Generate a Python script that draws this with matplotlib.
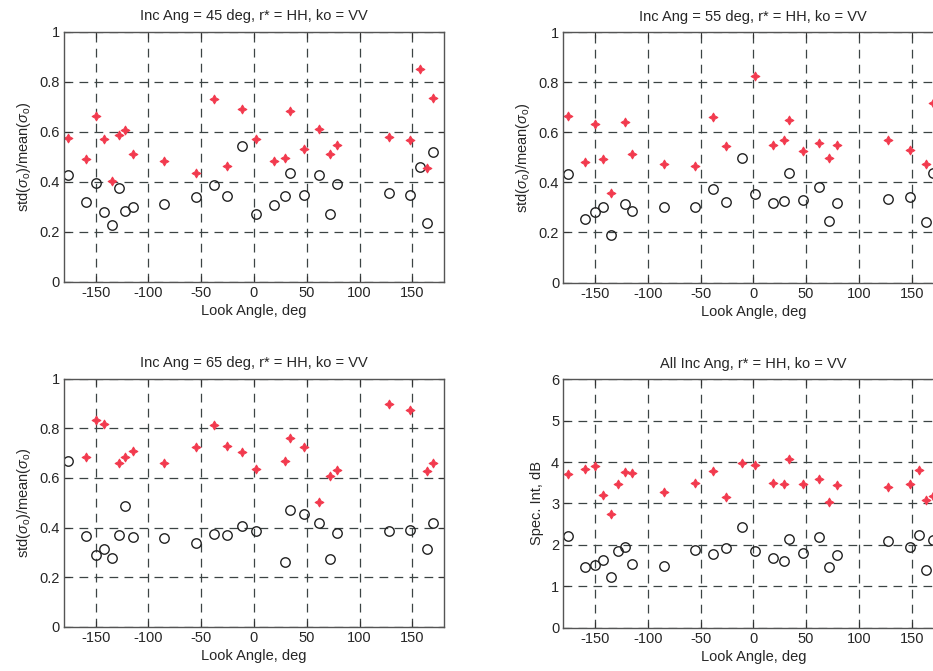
import numpy as np
import matplotlib
matplotlib.use("Agg")
import matplotlib.pyplot as plt

plt.rcParams['font.family'] = ['Liberation Sans', 'DejaVu Sans']
plt.rcParams['mathtext.fontset'] = 'custom'
plt.rcParams['mathtext.rm'] = 'Liberation Sans'
plt.rcParams['mathtext.it'] = 'Liberation Sans:italic'
plt.rcParams['axes.unicode_minus'] = False

nan = np.nan

look_angle = [-176, -159, -150, -142, -135, -128, -122, -115, -85, -55, -38, -26, -11,
              2, 19, 29, 34, 47, 62, 72, 79, 128, 148, 157, 164, 170]

# Inc Ang = 45
p45_star = [0.574, 0.493, 0.663, 0.569, 0.402, 0.586, 0.605, 0.510, 0.485, 0.435, 0.732, 0.463, 0.692,
            0.570, 0.482, 0.495, 0.682, 0.529, 0.609, 0.511, 0.547, 0.578, 0.567, 0.852, 0.455, 0.735]
p45_circ = [0.429, 0.320, 0.394, 0.280, 0.226, 0.377, 0.284, 0.301, 0.310, 0.340, 0.389, 0.344, 0.542,
            0.273, 0.309, 0.344, 0.437, 0.348, 0.427, 0.272, 0.391, 0.354, 0.349, 0.458, 0.237, 0.517]

# Inc Ang = 55
p55_star = [0.666, 0.481, 0.634, 0.493, 0.357, nan, 0.639, 0.514, 0.475, 0.467, 0.660, 0.543, nan,
            0.823, 0.547, 0.569, 0.650, 0.525, 0.555, 0.498, 0.550, 0.567, 0.530, nan, 0.474, 0.717]
p55_circ = [0.435, 0.254, 0.280, 0.300, 0.188, nan, 0.314, 0.284, 0.300, 0.300, 0.375, 0.322, 0.498,
            0.352, 0.317, 0.324, 0.438, 0.329, 0.382, 0.246, 0.317, 0.334, 0.342, nan, 0.240, 0.437]

# Inc Ang = 65
p65_star = [nan, 0.685, 0.832, 0.815, nan, 0.658, 0.685, 0.709, 0.658, 0.725, 0.813, 0.730, 0.706,
            0.636, nan, 0.670, 0.760, 0.723, 0.502, 0.609, 0.630, 0.897, 0.872, nan, 0.627, 0.659]
p65_circ = [0.666, 0.368, 0.291, 0.313, 0.277, 0.370, 0.487, 0.362, 0.357, 0.338, 0.374, 0.370, 0.407,
            0.388, nan, 0.263, 0.472, 0.454, 0.419, 0.275, 0.379, 0.387, 0.392, nan, 0.314, 0.419]

# All Inc Ang (dB)
all_star = [3.72, 3.83, 3.91, 3.21, 2.74, 3.48, 3.77, 3.74, 3.27, 3.50, 3.79, 3.16, 3.97,
            3.92, 3.50, 3.46, 4.08, 3.46, 3.59, 3.04, 3.44, 3.39, 3.47, 3.81, 3.08, 3.18]
all_circ = [2.22, 1.47, 1.52, 1.63, 1.22, 1.85, 1.95, 1.53, 1.50, 1.88, 1.79, 1.92, 2.42,
            1.86, 1.68, 1.60, 2.15, 1.80, 2.18, 1.46, 1.75, 2.09, 1.95, 2.24, 1.40, 2.12]

titles = ["Inc Ang = 45 deg, r* = HH, ko = VV",
          "Inc Ang = 55 deg, r* = HH, ko = VV",
          "Inc Ang = 65 deg, r* = HH, ko = VV",
          "All Inc Ang, r* = HH, ko = VV"]
ratio_label = r'std($\sigma_{\mathrm{o}}$)/mean($\sigma_{\mathrm{o}}$)'
ylabels = [ratio_label, ratio_label, ratio_label, "Spec. Int, dB"]
xlabel = "Look Angle, deg"
xticks = [-150, -100, -50, 0, 50, 100, 150]
ratio_ticks = [0, 0.2, 0.4, 0.6, 0.8, 1]
ratio_ticklabels = ["0", "0.2", "0.4", "0.6", "0.8", "1"]
db_ticks = [0, 1, 2, 3, 4, 5, 6]

W, H = 933, 671
fig = plt.figure(figsize=(W / 100, H / 100), dpi=100)

positions = [
    (64 / W, 1 - 282 / H, 380 / W, 250.5 / H),
    (563.3 / W, 1 - 282.5 / H, 380 / W, 250.5 / H),
    (64 / W, 1 - 627 / H, 380 / W, 248.5 / H),
    (563.3 / W, 1 - 627.7 / H, 380 / W, 248.5 / H),
]
stars = [p45_star, p55_star, p65_star, all_star]
circs = [p45_circ, p55_circ, p65_circ, all_circ]

txt = '#262626'
gridc = '#3c4444'
for i in range(4):
    ax = fig.add_axes(positions[i])
    ax.plot(look_angle, circs[i], linestyle='none', marker='o', markersize=6.8,
            markerfacecolor='none', markeredgecolor='#222222', markeredgewidth=1.0)
    ax.plot(look_angle, stars[i], linestyle='none', marker=(4, 1, 0), markersize=6.5,
            color='#f23a4e', markeredgewidth=0.7)
    ax.set_xlim(-180, 180)
    ax.set_xticks(xticks)
    if i < 3:
        ax.set_ylim(0, 1)
        ax.set_yticks(ratio_ticks)
        ax.set_yticklabels(ratio_ticklabels)
    else:
        ax.set_ylim(0, 6)
        ax.set_yticks(db_ticks)
    ax.grid(True, color=gridc, linestyle=(0, (7, 5)), linewidth=0.9)
    ax.tick_params(direction='in', length=4, width=0.8, top=True, right=True,
                   labelsize=10.5, colors='#333333', labelcolor=txt, pad=3)
    for s in ax.spines.values():
        s.set_color('#555555')
        s.set_linewidth(1.0)
    ax.set_title(titles[i], fontsize=10.5, color=txt, pad=8)
    ax.set_xlabel(xlabel, fontsize=10.5, color=txt, labelpad=3)
    ax.set_ylabel(ylabels[i], fontsize=10.5, color=txt, labelpad=5)

fig.savefig("out.png", dpi=100)
